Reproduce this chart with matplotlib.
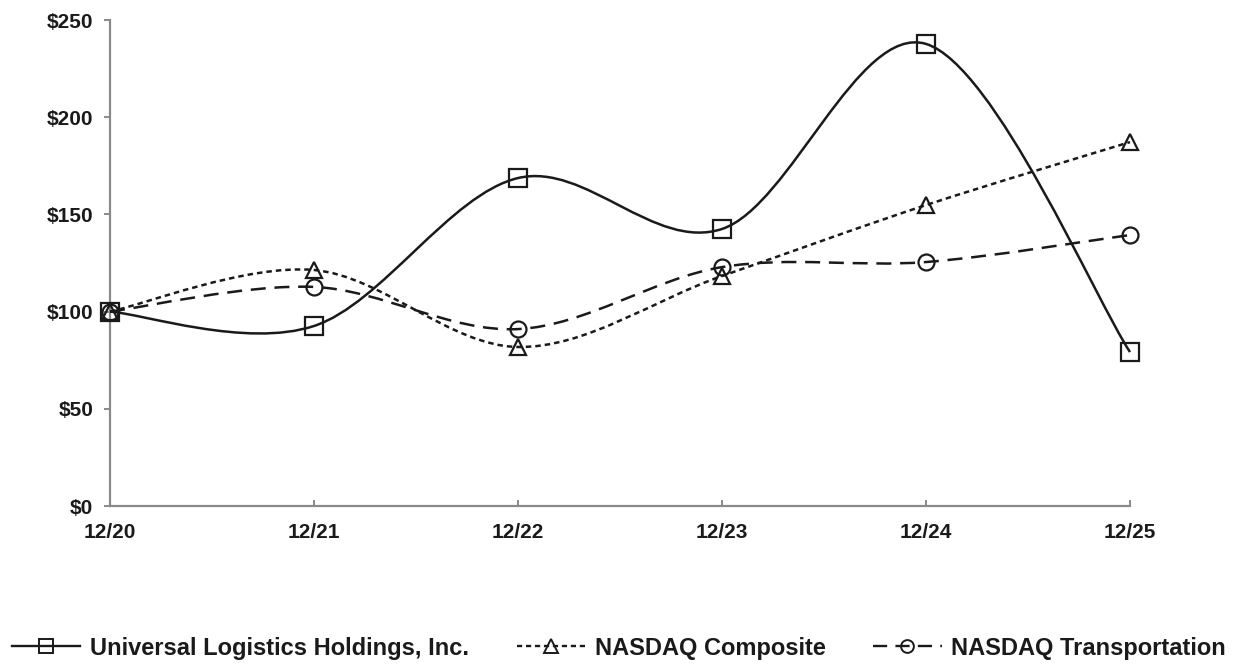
import numpy as np
import matplotlib.pyplot as plt
from matplotlib.path import Path
from matplotlib.patches import PathPatch
from matplotlib.lines import Line2D

plt.rcParams['font.family'] = ['Liberation Sans', 'DejaVu Sans']
plt.rcParams['font.weight'] = 'bold'

years = ['12/20', '12/21', '12/22', '12/23', '12/24', '12/25']
universal = [100, 92.6, 168.7, 142.5, 237.7, 79.2]
composite = [100, 121.4, 81.8, 118.3, 154.8, 187.2]
transport = [100, 112.7, 91.0, 122.9, 125.5, 139.4]
yticks = [0, 50, 100, 150, 200, 250]

ink = '#1a1a1a'
grey = '#8a8a8a'


def smooth_path(xs, ys):
    # excel-like smoothed line: catmull-rom as cubic bezier
    pts = np.column_stack([xs, ys]).astype(float)
    n = len(pts)
    verts = [pts[0]]
    codes = [Path.MOVETO]
    for i in range(n - 1):
        p0 = pts[max(i - 1, 0)]
        p1 = pts[i]
        p2 = pts[i + 1]
        p3 = pts[min(i + 2, n - 1)]
        c1 = p1 + (p2 - p0) / 6.0
        c2 = p2 - (p3 - p1) / 6.0
        verts += [c1, c2, p2]
        codes += [Path.CURVE4] * 3
    return Path(verts, codes)


fig = plt.figure(figsize=(12.43, 6.65), dpi=100)
ax = fig.add_axes([110 / 1243, 159 / 665, 1020 / 1243, 486 / 665])

x = np.arange(len(years))

series = [
    (universal, '-', 's', 13, 'Universal Logistics Holdings, Inc.'),
    (composite, (0, (2.2, 1.6)), '^', 12, 'NASDAQ Composite'),
    (transport, (0, (6, 3.5)), 'o', 11.5, 'NASDAQ Transportation'),
]

handles = []
for vals, ls, mk, ms, name in series:
    patch = PathPatch(smooth_path(x, vals), facecolor='none', edgecolor=ink,
                      lw=1.8, linestyle=ls, zorder=3, clip_on=False)
    ax.add_patch(patch)
    ax.plot(x, vals, linestyle='none', marker=mk, ms=ms, mfc='none',
            mec=ink, mew=1.6, zorder=4, clip_on=False)
    handles.append(Line2D([], [], color=ink, lw=1.7, linestyle=ls, marker=mk,
                          ms=ms * 0.8, mfc='none', mec=ink, mew=1.4, label=name))

ax.set_xlim(0, 5)
ax.set_ylim(0, 250)
ax.set_xticks(x)
ax.set_xticklabels(years)
ax.set_yticks(yticks)
ax.set_yticklabels(['$' + str(v) for v in yticks])

for s in ['top', 'right']:
    ax.spines[s].set_visible(False)
for s in ['left', 'bottom']:
    ax.spines[s].set_color(grey)
    ax.spines[s].set_linewidth(1.6)

ax.tick_params(axis='y', direction='out', length=4, width=1.4, color=grey,
               pad=8, labelsize=15, labelcolor=ink)
ax.tick_params(axis='x', direction='in', length=4, width=1.4, color=grey,
               pad=12, labelsize=15, labelcolor=ink)

fig.legend(handles=handles, loc='center left',
           bbox_to_anchor=(12 / 1243, 1 - 648 / 665), ncol=3, frameon=False,
           handlelength=2.9, handletextpad=0.42, columnspacing=2.0,
           borderpad=0, borderaxespad=0, numpoints=1,
           prop={'weight': 'bold', 'size': 17})
for t in fig.legends[0].get_texts():
    t.set_color(ink)

fig.savefig('out.png', dpi=100)
